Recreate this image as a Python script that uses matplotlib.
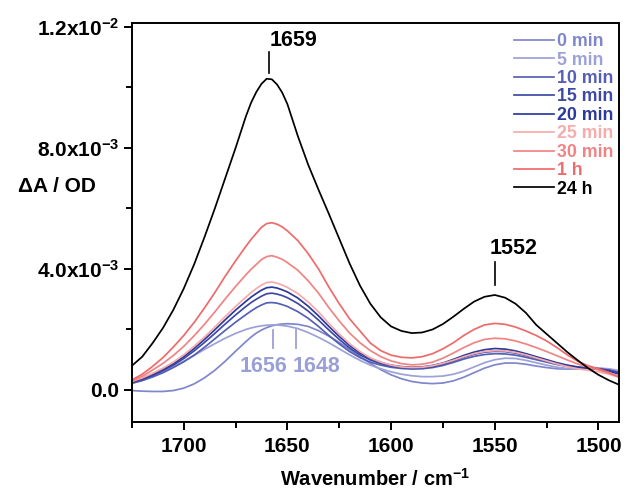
import matplotlib
matplotlib.use("Agg")
import matplotlib.pyplot as plt
from matplotlib.ticker import MultipleLocator, FixedLocator

plt.rcParams['font.family'] = ['Liberation Sans', 'DejaVu Sans']
plt.rcParams['mathtext.fontset'] = 'custom'
plt.rcParams['mathtext.rm'] = 'Liberation Sans:bold'
plt.rcParams['mathtext.bf'] = 'Liberation Sans:bold'
plt.rcParams['mathtext.default'] = 'bf'

wavenumber = [1725, 1720, 1715, 1710, 1705, 1700, 1695, 1690, 1685, 1680, 1675, 1670,
              1667.5, 1665, 1662.5, 1660, 1657.5, 1655, 1652.5, 1650,
              1645, 1640, 1635, 1630, 1625, 1620, 1615, 1610,
              1605, 1600, 1595, 1590, 1585, 1580, 1575, 1570, 1565, 1560, 1555, 1550,
              1545, 1540, 1535, 1530, 1525, 1520, 1515, 1510, 1505, 1500, 1495, 1490]

# values in units of 1e-3 OD
s_0min = [-0.02, -0.04, -0.05, -0.05, -0.02, 0.06, 0.20, 0.40, 0.65, 0.95, 1.28, 1.60,
          1.75, 1.88, 1.98, 2.06, 2.12, 2.16, 2.18, 2.19,
          2.17, 2.10, 1.96, 1.78, 1.57, 1.34, 1.10, 0.88,
          0.67, 0.50, 0.37, 0.28, 0.23, 0.21, 0.23, 0.30, 0.42, 0.57, 0.72, 0.83,
          0.89, 0.89, 0.85, 0.79, 0.74, 0.70, 0.69, 0.70, 0.72, 0.72, 0.68, 0.60]
s_5min = [0.22, 0.32, 0.45, 0.60, 0.77, 0.95, 1.14, 1.34, 1.53, 1.71, 1.87, 2.00,
          2.05, 2.09, 2.12, 2.14, 2.15, 2.15, 2.13, 2.11,
          2.03, 1.90, 1.74, 1.56, 1.36, 1.16, 0.98, 0.82,
          0.70, 0.60, 0.52, 0.47, 0.44, 0.44, 0.46, 0.52, 0.62, 0.76, 0.90, 1.00,
          1.05, 1.04, 0.98, 0.90, 0.82, 0.75, 0.71, 0.70, 0.71, 0.72, 0.70, 0.64]
s_10min = [0.22, 0.31, 0.43, 0.57, 0.74, 0.93, 1.15, 1.41, 1.69, 1.97, 2.24, 2.49,
           2.61, 2.72, 2.81, 2.88, 2.89, 2.87, 2.82, 2.76,
           2.59, 2.37, 2.10, 1.80, 1.52, 1.27, 1.07, 0.92,
           0.82, 0.75, 0.71, 0.69, 0.70, 0.74, 0.81, 0.91, 1.02, 1.11, 1.17, 1.20,
           1.19, 1.15, 1.08, 1.00, 0.92, 0.84, 0.78, 0.74, 0.72, 0.70, 0.66, 0.58]
s_15min = [0.25, 0.35, 0.48, 0.64, 0.82, 1.04, 1.29, 1.57, 1.87, 2.18, 2.48, 2.76,
           2.89, 3.00, 3.10, 3.18, 3.20, 3.17, 3.12, 3.05,
           2.86, 2.61, 2.31, 1.98, 1.67, 1.39, 1.16, 0.99,
           0.87, 0.79, 0.74, 0.72, 0.73, 0.77, 0.85, 0.96, 1.08, 1.18, 1.25, 1.28,
           1.27, 1.22, 1.14, 1.05, 0.96, 0.87, 0.80, 0.75, 0.72, 0.70, 0.65, 0.56]
s_20min = [0.26, 0.37, 0.51, 0.68, 0.87, 1.10, 1.37, 1.67, 1.99, 2.32, 2.64, 2.93,
           3.07, 3.19, 3.30, 3.38, 3.40, 3.37, 3.31, 3.24,
           3.04, 2.77, 2.45, 2.10, 1.77, 1.47, 1.22, 1.04,
           0.91, 0.82, 0.77, 0.75, 0.76, 0.81, 0.89, 1.01, 1.14, 1.25, 1.33, 1.37,
           1.35, 1.29, 1.20, 1.10, 1.00, 0.90, 0.82, 0.76, 0.72, 0.69, 0.63, 0.52]
s_25min = [0.28, 0.40, 0.55, 0.72, 0.92, 1.16, 1.44, 1.75, 2.08, 2.43, 2.76, 3.07,
           3.22, 3.35, 3.47, 3.55, 3.57, 3.53, 3.47, 3.39,
           3.19, 2.91, 2.58, 2.20, 1.85, 1.53, 1.27, 1.06,
           0.92, 0.82, 0.76, 0.74, 0.75, 0.80, 0.88, 0.98, 1.10, 1.20, 1.27, 1.30,
           1.29, 1.24, 1.16, 1.06, 0.96, 0.86, 0.77, 0.70, 0.65, 0.60, 0.52, 0.42]
s_30min = [0.30, 0.45, 0.66, 0.88, 1.14, 1.44, 1.79, 2.17, 2.58, 3.01, 3.42, 3.81,
           3.99, 4.15, 4.31, 4.41, 4.44, 4.39, 4.32, 4.21,
           3.96, 3.61, 3.20, 2.72, 2.28, 1.88, 1.56, 1.30,
           1.10, 0.96, 0.87, 0.83, 0.85, 0.92, 1.05, 1.22, 1.40, 1.56, 1.67, 1.71,
           1.69, 1.62, 1.52, 1.40, 1.27, 1.13, 0.99, 0.86, 0.75, 0.66, 0.56, 0.44]
s_1h = [0.33, 0.52, 0.78, 1.07, 1.42, 1.80, 2.23, 2.71, 3.22, 3.76, 4.27, 4.75,
        4.98, 5.18, 5.38, 5.50, 5.53, 5.48, 5.39, 5.26,
        4.94, 4.51, 4.00, 3.40, 2.85, 2.35, 1.95, 1.55,
        1.30, 1.15, 1.08, 1.06, 1.10, 1.20, 1.36, 1.56, 1.80, 2.00, 2.15, 2.20,
        2.17, 2.08, 1.95, 1.80, 1.62, 1.40, 1.16, 0.95, 0.80, 0.70, 0.58, 0.42]
s_24h = [0.80, 1.10, 1.55, 2.05, 2.65, 3.35, 4.15, 5.05, 6.00, 7.00, 8.00, 9.05,
         9.50, 9.85, 10.12, 10.29, 10.27, 10.10, 9.83, 9.45,
         8.40, 7.45, 6.62, 5.82, 5.00, 4.18, 3.45, 2.85,
         2.40, 2.10, 1.95, 1.88, 1.90, 2.00, 2.18, 2.42, 2.68, 2.92, 3.08, 3.14,
         3.05, 2.85, 2.55, 2.15, 1.85, 1.55, 1.25, 0.98, 0.72, 0.50, 0.32, 0.17]

labels = ['0 min', '5 min', '10 min', '15 min', '20 min', '25 min', '30 min', '1 h', '24 h']
series = [s_0min, s_5min, s_10min, s_15min, s_20min, s_25min, s_30min, s_1h, s_24h]
colors = ['#7f86cc', '#9ca1d8', '#5560b5', '#3e49a6', '#2c3a9b',
          '#f7abab', '#f28383', '#ef6a6a', '#000000']

fig = plt.figure(figsize=(6.28, 4.91), dpi=100)
ax = fig.add_axes([0.210, 0.1405, 0.776, 0.8125])

for lab, s, c in zip(labels, series, colors):
    ax.plot(wavenumber, [v * 1e-3 for v in s], color=c, lw=1.25, label=lab)

ax.set_xlim(1725, 1490)
ax.set_ylim(-1.06e-3, 12.13e-3)

ax.xaxis.set_major_locator(FixedLocator([1700, 1650, 1600, 1550, 1500]))
ax.xaxis.set_minor_locator(MultipleLocator(25))
ax.yaxis.set_major_locator(FixedLocator([0, 4e-3, 8e-3, 12e-3]))
ax.yaxis.set_minor_locator(FixedLocator([2e-3, 6e-3, 10e-3]))
ax.set_yticklabels(['0.0', r'4.0x10$^{-3}$', r'8.0x10$^{-3}$', r'1.2x10$^{-2}$'])
ax.set_xticklabels(['1700', '1650', '1600', '1550', '1500'])

for sp in ax.spines.values():
    sp.set_linewidth(1.4)
ax.tick_params(which='major', length=6, width=1.4, labelsize=15, direction='out')
ax.tick_params(which='minor', length=4, width=1.4, direction='out')
for t in ax.get_xticklabels() + ax.get_yticklabels():
    t.set_fontweight('bold')
ax.tick_params(axis='x', pad=5)
ax.tick_params(axis='y', pad=3)

ax.set_xlabel(r'Wavenumber / cm$^{-1}$', fontsize=14.5, fontweight='bold', labelpad=8)
fig.text(0.029, 0.62, 'ΔA / OD', fontsize=15, fontweight='bold', ha='left', va='center')

# annotations
ax.plot([1659, 1659], [10.48e-3, 11.17e-3], color='black', lw=1.2)
ax.text(1647, 11.57e-3, '1659', fontsize=15.5, fontweight='bold', ha='center', va='center')
ax.plot([1550, 1550], [3.47e-3, 4.23e-3], color='black', lw=1.2)
ax.text(1541, 4.69e-3, '1552', fontsize=15.5, fontweight='bold', ha='center', va='center')
lc = '#9aa0d6'
ax.plot([1657, 1657], [1.39e-3, 1.98e-3], color=lc, lw=1.3)
ax.plot([1646, 1646], [1.39e-3, 1.98e-3], color=lc, lw=1.3)
ax.text(1661.5, 0.76e-3, '1656', fontsize=15.5, fontweight='bold', color=lc, ha='center', va='center')
ax.text(1636, 0.76e-3, '1648', fontsize=15.5, fontweight='bold', color=lc, ha='center', va='center')

leg = ax.legend(loc='upper right', bbox_to_anchor=(1.0, 0.988), frameon=False,
                fontsize=12.8, handlelength=2.25, handletextpad=0.2, labelspacing=0.08,
                borderaxespad=0.1, borderpad=0.2)
for txt, c in zip(leg.get_texts(), colors):
    txt.set_color(c)
    txt.set_fontweight('bold')

fig.savefig('out.png', dpi=100)
